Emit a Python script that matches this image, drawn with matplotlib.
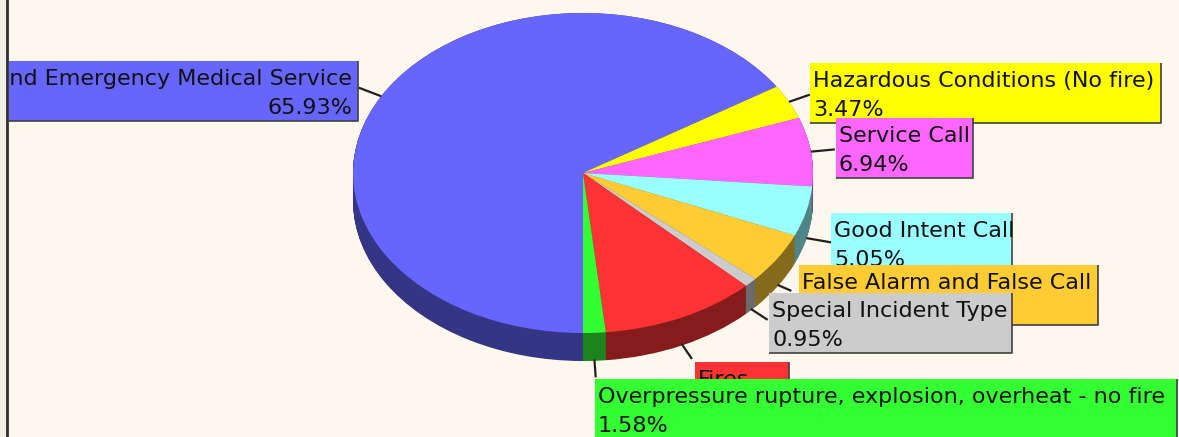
import matplotlib
matplotlib.use("Agg")
import matplotlib.pyplot as plt
import numpy as np
from matplotlib.patches import Rectangle
from matplotlib.lines import Line2D

# data
categories = ['Rescue and Emergency Medical Service',
              'Hazardous Conditions (No fire)',
              'Service Call',
              'Good Intent Call',
              'False Alarm and False Call',
              'Special Incident Type',
              'Fires',
              'Overpressure rupture, explosion, overheat - no fire']
shares = [65.93, 3.47, 6.94, 5.05, 5.11, 0.95, 10.97, 1.58]
colors = ['#6666ff', '#ffff00', '#ff66ff', '#99ffff',
          '#ffcc33', '#cccccc', '#ff3333', '#33ff33']

# label boxes in pixels: left, top, width, height, text alignment
boxes = [(-60, 61, 418, 60, 'right'),
         (810, 63, 351, 60, 'left'),
         (836, 118, 137, 60, 'left'),
         (831, 213, 181, 60, 'left'),
         (799, 265, 299, 60, 'left'),
         (769, 293, 243, 60, 'left'),
         (695, 362, 94, 60, 'left'),
         (595, 379, 582, 62, 'left')]
leader_len = [24, 22, 24, 26, 15, 20, 18, 18]

W, H = 1179, 437
bg = '#fdf7ed'
fig = plt.figure(figsize=(W / 100, H / 100), dpi=100)
fig.patch.set_facecolor(bg)
plt.rcParams['font.family'] = ['DejaVu Sans']

# left frame strip
fig.add_artist(Rectangle((0, 0), 7 / W, 1, transform=fig.transFigure,
                         facecolor='#f2f0e6', edgecolor='none'))
fig.add_artist(Line2D([7.5 / W, 7.5 / W], [0, 1], transform=fig.transFigure,
                      color='#303030', lw=2))

# pie geometry (pixels)
cx, cy, rx, ry, depth = 583, 173, 230, 160, 28
ytop, ybot = 1.05, -1.25
axp = fig.add_axes([(cx - rx) / W, (H - (cy - ybot * ry)) / H,
                    2 * rx / W, (ytop - ybot) * ry / H])
axp.patch.set_alpha(0)

dark = [tuple(c * 0.52 for c in matplotlib.colors.to_rgb(col)) for col in colors]
d = depth / ry
for off in np.linspace(d, 0.0, 40):
    axp.pie(shares, colors=dark, startangle=-90, counterclock=False,
            center=(0, -off), radius=1, wedgeprops=dict(linewidth=0))
axp.pie(shares, colors=colors, startangle=-90, counterclock=False,
        center=(0, 0), radius=1, wedgeprops=dict(linewidth=0))
axp.set_aspect('auto')
axp.set_xlim(-1, 1)
axp.set_ylim(ybot, ytop)
axp.axis('off')

# leader lines
cum = np.cumsum([0] + shares[:-1])
for i, v in enumerate(shares):
    th = np.deg2rad(-90 - 360 * (cum[i] + v / 2) / 100)
    x0, y0 = np.cos(th), np.sin(th)
    if y0 < 0:
        y0 -= d * 0.95
    dx, dy = rx * np.cos(th), ry * np.sin(th)
    n = np.hypot(dx, dy)
    L = leader_len[i]
    x1 = x0 + L * dx / n / rx
    y1 = y0 + L * dy / n / ry
    axp.plot([x0, x1], [y0, y1], color='#202020', lw=1.6,
             clip_on=False, solid_capstyle='butt', zorder=5)

# labels overlay
axl = fig.add_axes([9 / W, 0, (W - 9) / W, 1])
axl.set_xlim(9, W)
axl.set_ylim(H, 0)
axl.patch.set_alpha(0)
axl.axis('off')

for i, (name, v) in enumerate(zip(categories, shares)):
    x, y, w, h, ha = boxes[i]
    z = 10 + i * 2
    axl.add_patch(Rectangle((x, y), w, h, facecolor=colors[i],
                            edgecolor='none', zorder=z))
    axl.plot([x + w, x + w, x], [y, y + h, y + h], color='#404040',
             lw=1.2, zorder=z, solid_capstyle='butt')
    tx = x + w - 6 if ha == 'right' else x + 3
    axl.text(tx, y + 24, name, ha=ha, va='baseline', fontsize=16,
             color='#111111', zorder=z + 1, clip_on=True)
    axl.text(tx, y + 53, f'{v:.2f}%', ha=ha, va='baseline', fontsize=16,
             color='#111111', zorder=z + 1, clip_on=True)

fig.savefig('out.png', dpi=100, facecolor=bg)
